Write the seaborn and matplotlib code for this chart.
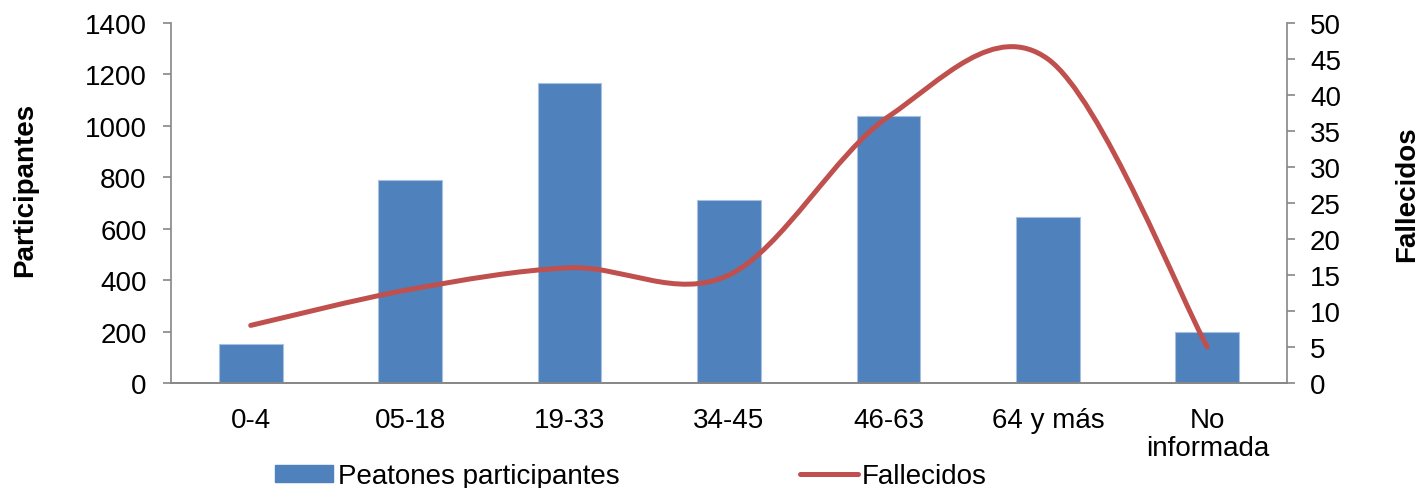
import numpy as np
import pandas as pd
import matplotlib
matplotlib.use("Agg")
import matplotlib.pyplot as plt
from matplotlib.path import Path
from matplotlib.patches import PathPatch, Patch
from matplotlib.lines import Line2D
import seaborn as sns

# data
grupos = ["0-4", "05-18", "19-33", "34-45", "46-63", "64 y más", "No\ninformada"]
participantes = [150, 790, 1165, 710, 1040, 645, 200]
fallecidos = [8, 13, 16, 15, 37, 45, 5]

azul = "#4F81BD"
rojo = "#C0504D"
gris = "#868686"

sns.set_style("white")
plt.rcParams["font.family"] = ["Liberation Sans", "DejaVu Sans"]
plt.rcParams["font.size"] = 20
plt.rcParams["text.color"] = "black"
plt.rcParams["axes.labelcolor"] = "black"
plt.rcParams["xtick.labelcolor"] = "black"
plt.rcParams["ytick.labelcolor"] = "black"

df = pd.DataFrame({"grupo": grupos, "participantes": participantes, "fallecidos": fallecidos})

fig = plt.figure(figsize=(14.22, 4.89), dpi=100)
ax = fig.add_axes([171 / 1422, 105 / 489, 1116 / 1422, 360 / 489])

sns.barplot(data=df, x="grupo", y="participantes", color=azul, width=0.4,
            saturation=1, edgecolor="#a9c1e0", linewidth=0.8, ax=ax)
ax.set_xlim(-0.5, len(grupos) - 0.5)
ax.set_ylim(0, 1400)
ax.set_yticks(range(0, 1401, 200))
ax.set_xlabel("")
ax.set_ylabel("Participantes", fontsize=20, fontweight="bold")
ax.yaxis.set_label_coords(-0.119, 0.54)

# smoothed line like Excel (cubic Bezier through the points)
ax2 = ax.twinx()
ax2.set_ylim(0, 50)
ax2.set_yticks(range(0, 51, 5))
xs = np.arange(len(fallecidos), dtype=float)
ys = np.array(fallecidos, dtype=float)
verts = [(xs[0], ys[0])]
codes = [Path.MOVETO]
n = len(xs)
for i in range(n - 1):
    p0 = np.array([xs[max(i - 1, 0)], ys[max(i - 1, 0)]])
    p1 = np.array([xs[i], ys[i]])
    p2 = np.array([xs[i + 1], ys[i + 1]])
    p3 = np.array([xs[min(i + 2, n - 1)], ys[min(i + 2, n - 1)]])
    c1 = p1 + (p2 - p0) / 6
    c2 = p2 - (p3 - p1) / 6
    verts += [tuple(c1), tuple(c2), tuple(p2)]
    codes += [Path.CURVE4] * 3
ax2.add_patch(PathPatch(Path(verts, codes), facecolor="none", edgecolor=rojo,
                        lw=3.6, capstyle="round", joinstyle="round"))
ax2.set_ylabel("Fallecidos", fontsize=20, fontweight="bold")
ax2.yaxis.set_label_coords(1.096, 0.528)

for a in (ax, ax2):
    for s in a.spines.values():
        s.set_color(gris)
        s.set_linewidth(1.2)
    a.spines["top"].set_visible(False)
ax2.spines["left"].set_visible(False)
ax.spines["right"].set_visible(False)

ax.set_xticks(np.arange(-0.5, len(grupos), 1.0), minor=True)
ax.tick_params(axis="x", which="major", length=0, pad=17, labelsize=20)
ax.tick_params(axis="x", which="minor", length=5.5, width=1.2, color=gris, direction="out")
ax.tick_params(axis="y", length=5.5, width=1.2, color=gris, direction="out", pad=12,
               labelsize=20, left=True)
ax2.tick_params(axis="y", length=5.5, width=1.2, color=gris, direction="out", pad=11,
                labelsize=20, right=True)
for lab in ax.get_xticklabels():
    lab.set_linespacing(1.1)

handles = [Patch(facecolor=azul, edgecolor=azul),
           Line2D([0], [0], color=rojo, lw=3.6)]
fig.legend(handles, ["Peatones participantes", "Fallecidos"], loc="center left",
           bbox_to_anchor=(275 / 1422, 12 / 489), ncol=2, frameon=False, fontsize=20,
           handlelength=2.1, handleheight=0.55, handletextpad=0.15, columnspacing=6.5,
           borderpad=0, borderaxespad=0)

fig.savefig("out.png", dpi=100)
